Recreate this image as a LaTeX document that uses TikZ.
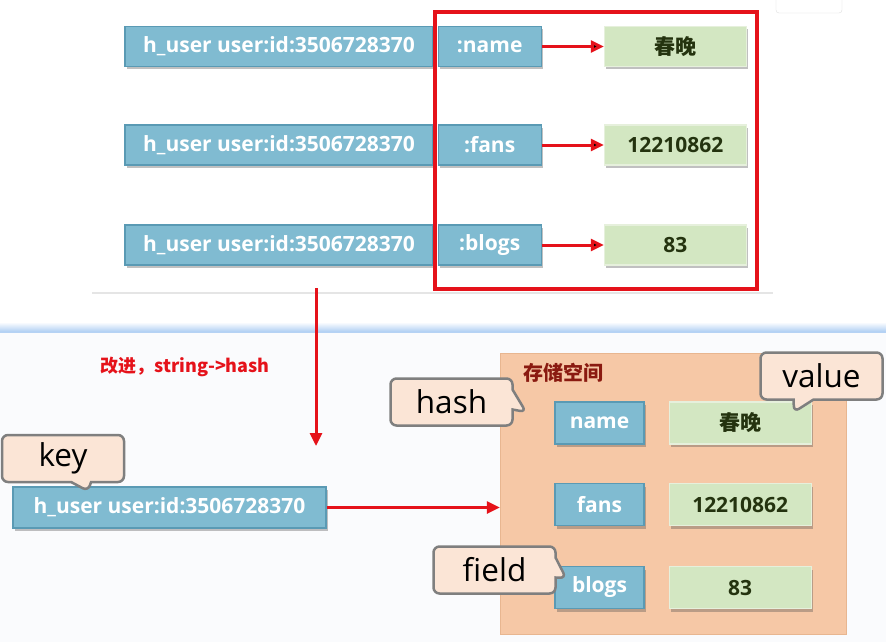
\documentclass[tikz,border=0pt]{standalone}
\usepackage{fontspec}
\setmainfont{Open Sans}
\newfontfamily\cjk{Noto Sans CJK SC}
\usepackage{tikz}
\usetikzlibrary{arrows.meta,shapes.callouts,shadows,positioning}
\definecolor{keyfill}{HTML}{80BBD1}
\definecolor{keyedge}{HTML}{5A9AB4}
\definecolor{valfill}{HTML}{D3E7C2}
\definecolor{valedge}{HTML}{E6F0DC}
\definecolor{valtext}{HTML}{24330F}
\definecolor{storefill}{HTML}{F6C8A6}
\definecolor{storeedge}{HTML}{E8B690}
\definecolor{notefill}{HTML}{FBE5D6}
\definecolor{noteedge}{HTML}{7F7F7F}
\definecolor{arrowred}{HTML}{E5121A}
\definecolor{titlered}{HTML}{8A1A10}
\definecolor{lowbg}{HTML}{FAFBFD}
\definecolor{sepblue}{HTML}{B5D2F4}

\begin{document}
\begin{tikzpicture}[x=1pt,y=-1pt,>={Triangle[length=13pt,width=12pt]},
    box shadow/.style={drop shadow={shadow xshift=2pt,shadow yshift=-3pt,opacity=.35,fill=black!70}},
    key node/.style={draw=keyedge,fill=keyfill,line width=1.2pt,text=white,inner sep=0pt,
      font=\fontsize{21}{24}\selectfont\bfseries,minimum height=40pt,box shadow},
    val node/.style={draw=valedge,fill=valfill,line width=1.2pt,text=valtext,inner sep=0pt,
      font=\fontsize{21}{24}\selectfont\bfseries,minimum height=40pt,minimum width=142pt,box shadow},
    tip note/.style={rectangle callout,rounded corners=6pt,fill=notefill,draw=noteedge,line width=2.5pt,
      inner sep=0pt,minimum width=122pt,minimum height=47pt,callout pointer width=20pt,
      font=\fontsize{31.5}{34}\selectfont},
    red line/.style={draw=arrowred,line width=3pt}]

  \useasboundingbox (0,0) rectangle (886,642);
  \fill[white] (0,0) rectangle (886,330);
  \fill[lowbg] (0,333) rectangle (886,642);
  \shade[top color=white,bottom color=sepblue] (0,322) rectangle (886,331);
  \fill[sepblue] (0,331) rectangle (886,333);
  \draw[gray!25,fill=white,rounded corners=3pt] (776,-8) rectangle (842,13);
  \fill[white,drop shadow={shadow xshift=0pt,shadow yshift=-2pt,opacity=.2}] (92,-10) rectangle (773,292);

  \node[key node,minimum width=308pt] (k1) at (279,46.5) {h\_user user:id:3506728370};
  \node[key node,minimum width=103pt] (f1) [right=4pt of k1] {:name};
  \node[val node] (v1) [right=62pt of f1] {\cjk 春晚};
  \node[key node,minimum width=308pt] (k2) at (279,145) {h\_user user:id:3506728370};
  \node[key node,minimum width=103pt] (f2) [right=4pt of k2] {:fans};
  \node[val node] (v2) [right=62pt of f2] {12210862};
  \node[key node,minimum width=308pt] (k3) at (279,245) {h\_user user:id:3506728370};
  \node[key node,minimum width=103pt] (f3) [right=4pt of k3] {:blogs};
  \node[val node] (v3) [right=62pt of f3] {83};
  \path[red line,->]
    (f1) edge (v1)
    (f2) edge (v2)
    (f3) edge (v3);
  \draw[draw=arrowred,line width=3.2pt] (435,12) rectangle (757,289);

  \coordinate (down-a) at (316,288);
  \coordinate (down-b) at (316,446);
  \draw[red line,->] (down-a) -- (down-b);
  \node[text=arrowred,font=\cjk\fontsize{18}{20}\selectfont\bfseries] (tip) at (185,367) {改进，string->hash};

  \node[fill=storefill,draw=storeedge,minimum width=346pt,minimum height=281pt] (s) at (673,493.5) {};
  \node[text=titlered,font=\cjk\fontsize{20}{22}\selectfont\bfseries,inner sep=0pt] (t) [below right=10pt and 23pt of s.north west] {存储空间};

  \node[key node,minimum width=313pt,minimum height=41pt] (key) at (169.5,507.5) {h\_user user:id:3506728370};
  \draw[red line,->] (key) -- (key.east -| s.west);

  \node[key node,minimum width=89pt,minimum height=42pt] (n1) at (599.5,423) {name};
  \node[val node,minimum height=42pt] (w1) [right=24pt of n1] {\cjk 春晚};
  \node[key node,minimum width=89pt,minimum height=42pt] (n2) at (599.5,504.5) {fans};
  \node[val node,minimum height=42pt] (w2) [right=24pt of n2] {12210862};
  \node[key node,minimum width=89pt,minimum height=42pt] (n3) at (599.5,587.5) {blogs};
  \node[val node,minimum height=42pt] (w3) [right=24pt of n3] {83};

  \coordinate (p-key) at (88,491);
  \coordinate (p-hash) at (526,412);
  \coordinate (p-value) at (794,412);
  \coordinate (p-field) at (566,578);
  \node[tip note,callout absolute pointer=(p-key)] (c-key) at (63,458.5) {key};
  \node[tip note,callout absolute pointer=(p-hash)] (c-hash) at (451.5,402) {hash};
  \node[tip note,callout absolute pointer=(p-value)] (c-value) at (821.5,376) {value};
  \node[tip note,callout absolute pointer=(p-field)] (c-field) at (494.5,570) {field};
\end{tikzpicture}
\end{document}
